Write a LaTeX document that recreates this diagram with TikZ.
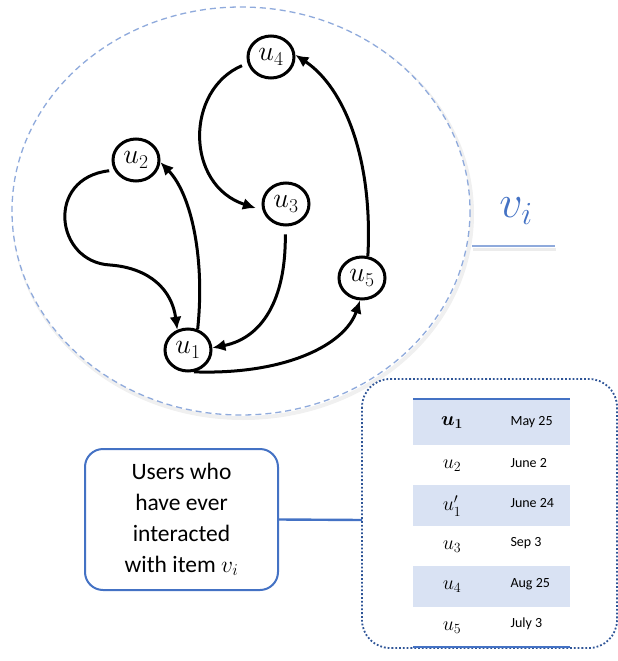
\documentclass[tikz,border=0pt]{standalone}
\usepackage{fix-cm}
\usepackage{amsmath}
\usepackage{bm}
\usepackage{fontspec}
\setmainfont{Carlito}
\usetikzlibrary{arrows.meta,shapes.geometric}
\definecolor{cblue}{HTML}{4472C4}
\definecolor{lblue}{HTML}{8FAADC}
\definecolor{dblue}{HTML}{2F5597}
\definecolor{rowshade}{HTML}{D9E2F3}
\tikzset{
  unode/.style={draw, ellipse, line width=3pt, minimum width=46pt, minimum height=42pt, inner sep=0pt, fill=white, font=\fontsize{28}{30}\selectfont},
  arc/.style={line width=3pt, -{Latex[length=13pt,width=12pt]}},
  tu/.style={font=\fontsize{20}{22}\selectfont, anchor=center},
  td/.style={font=\fontsize{14}{16}\selectfont, anchor=west},
}
\begin{document}
\begin{tikzpicture}[x=1pt,y=-1pt]
\useasboundingbox (0,0) rectangle (618,661);
% big dashed ellipse with faint shadow
\draw[gray!12, line width=4pt] (243,214) ellipse [x radius=229, y radius=204];
\draw[lblue, line width=1.3pt, dash pattern=on 6pt off 4pt, fill=white] (241,211) ellipse [x radius=229, y radius=204];
% v_i label
\draw[gray!15, line width=3pt] (473,249) -- (556,249);
\draw[lblue, line width=1.8pt] (472,246) coordinate (la) -- (555,246) coordinate (lb);
\node[text=cblue, font=\fontsize{46}{50}\selectfont] (vi) at (516,211) {$v_i$};
% graph nodes
\node[unode] (u4) at (271,57) {$u_4$};
\node[unode] (u2) at (136,160) {$u_2$};
\node[unode] (u3) at (286,204) {$u_3$};
\node[unode] (u5) at (362,278) {$u_5$};
\node[unode] (u1) at (188,350) {$u_1$};
% edges
\draw[arc, shorten <=5pt] (u2.205) .. controls (45,178) and (55,262) .. (110,265)
  .. controls (150,268) and (172,290) .. (u1.118);
\draw[arc] (u1.65) .. controls (205,260) and (192,195) .. (u2.-5);
\draw[arc, shorten <=6pt, shorten >=7pt] (u4.195) .. controls (185,90) and (185,185) .. (u3.195);
\draw[arc, shorten <=8pt] (u3.-92) .. controls (286,300) and (262,338) .. (u1.5);
\draw[arc] (u1.-75) .. controls (285,375) and (345,345) .. (u5.-95);
\draw[arc] (u5.75) .. controls (373,160) and (345,88) .. (u4.5);
% table box
\draw[dblue, line width=1.8pt, dotted, rounded corners=28pt] (362,379) rectangle (617,648);
\coordinate (tb) at (362,520);
% table
\fill[rowshade] (413,399) rectangle (570,445);
\fill[rowshade] (413,485) rectangle (570,526);
\fill[rowshade] (413,566) rectangle (570,607);
\draw[cblue, line width=2.8pt] (413,399) -- (570,399);
\draw[cblue, line width=2.8pt] (413,647) -- (570,647);
\node[tu] (r1a) at (452,423) {$\bm{u_1}$};
\node[td] (r1b) at (507,422) {May 25};
\node[tu] (r2a) at (452,466) {$u_2$};
\node[td] (r2b) at (507,463) {June 2};
\node[tu] (r3a) at (452,506) {$u_1'$};
\node[td] (r3b) at (507,503) {June 24};
\node[tu] (r4a) at (452,547) {$u_3$};
\node[td] (r4b) at (507,543) {Sep 3};
\node[tu] (r5a) at (452,587) {$u_4$};
\node[td] (r5b) at (507,584) {Aug 25};
\node[tu] (r6a) at (452,628) {$u_5$};
\node[td] (r6b) at (507,624) {July 3};
% label box
\node[draw=cblue, line width=2pt, rounded corners=18pt, minimum width=193pt, minimum height=141pt, align=center, font=\fontsize{23.5}{31}\selectfont, inner sep=0pt] (lbl) at (181.5,519.5) {Users who\\have ever\\interacted\\with item $v_i$};
\draw[cblue, line width=2.4pt] (lbl.east) -- (tb);
\end{tikzpicture}
\end{document}
